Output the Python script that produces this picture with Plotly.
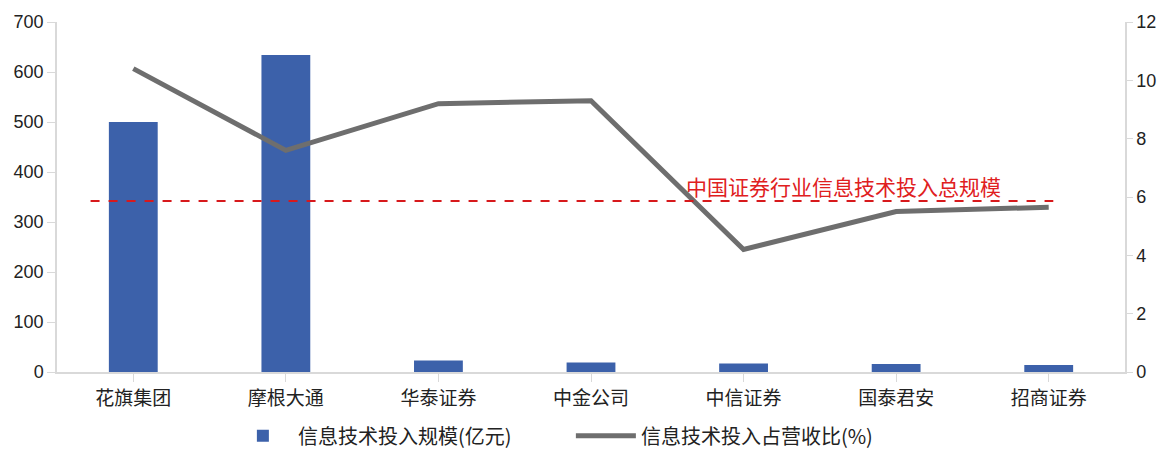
import plotly.graph_objects as go

categories = ["花旗集团", "摩根大通", "华泰证券", "中金公司", "中信证券", "国泰君安", "招商证券"]
it_invest = [500, 634, 23, 19, 17, 16, 14]
it_ratio = [10.4, 7.6, 9.2, 9.3, 4.2, 5.5, 5.65]
industry_total = 342
industry_label = "中国证券行业信息技术投入总规模"
bar_name = "信息技术投入规模(亿元)"
line_name = "信息技术投入占营收比(%)"

cjk = "Noto Sans CJK SC"
num_font = "Liberation Sans, Arial"

fig = go.Figure()
fig.add_trace(go.Bar(x=list(range(len(categories))), y=it_invest, name=bar_name,
                     marker=dict(color="#3C61AA", line=dict(width=0)), width=0.32, yaxis="y"))
fig.add_trace(go.Scatter(x=list(range(len(categories))), y=it_ratio, name=line_name,
                         mode="lines", line=dict(color="#6E6E6E", width=5), yaxis="y2"))

fig.add_shape(type="line", xref="x", yref="y", x0=-0.28, x1=6.03,
              y0=industry_total, y1=industry_total,
              line=dict(color="#D7191C", width=1.8, dash="dash"))
fig.add_annotation(x=6.03, y=industry_total, xref="x", yref="y", text=industry_label,
                   showarrow=False, xanchor="right", yanchor="bottom", xshift=-50, yshift=-2,
                   font=dict(family=cjk, size=21, color="#E0201E"))

fig.update_layout(
    width=1165, height=450,
    margin=dict(l=57, r=40, t=22, b=78, autoexpand=False),
    plot_bgcolor="white", paper_bgcolor="white",
    showlegend=True,
    legend=dict(orientation="h", x=0.16, xanchor="left", yref="container", y=0.075,
                yanchor="top", entrywidth=268, entrywidthmode="pixels",
                font=dict(family=cjk, size=20, color="#222"), itemwidth=60,
                traceorder="normal"),
    xaxis=dict(tickmode="array", tickvals=list(range(len(categories))), ticktext=categories,
               range=[-0.5, 6.5], showline=True, linecolor="#D9D9D9", linewidth=1.5,
               ticks="outside", tickson="boundaries", ticklen=8, tickcolor="#D9D9D9",
               showgrid=False, tickfont=dict(family=cjk, size=19, color="#222")),
    yaxis=dict(range=[0, 700], dtick=100, showline=True, linecolor="#D9D9D9", linewidth=1.5,
               ticks="outside", ticklen=8, tickcolor="#D9D9D9", showgrid=False, zeroline=False,
               tickfont=dict(family=num_font, size=18, color="#222")),
    yaxis2=dict(range=[0, 12], dtick=2, overlaying="y", side="right", showline=True,
                linecolor="#D9D9D9", linewidth=1.5, ticks="outside", ticklen=6,
                tickcolor="#D9D9D9", showgrid=False, zeroline=False,
                tickfont=dict(family=num_font, size=18, color="#222")),
)

fig.write_html("out.html")
